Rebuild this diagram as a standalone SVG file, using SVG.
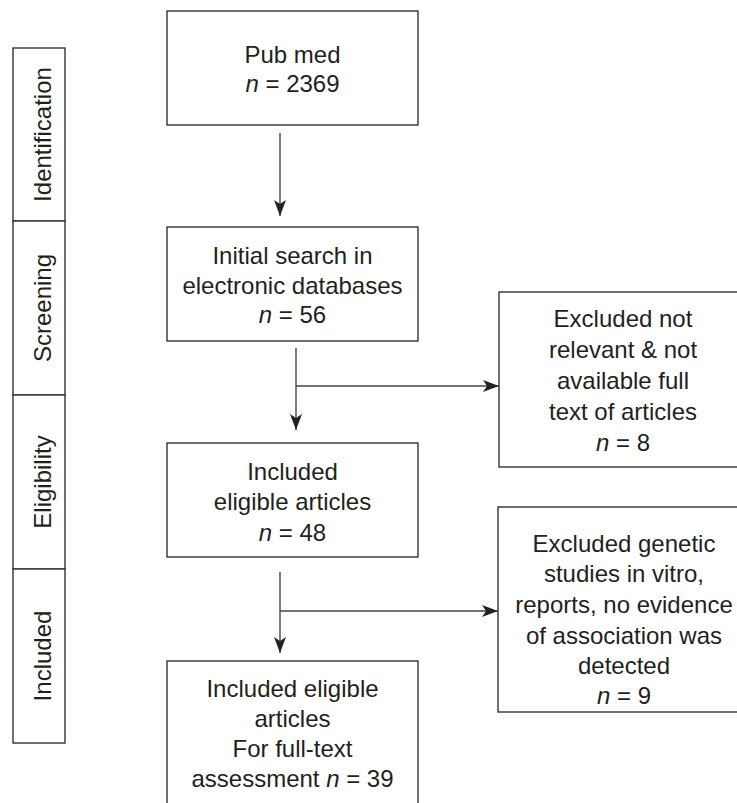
<svg xmlns="http://www.w3.org/2000/svg" width="737" height="803" viewBox="0 0 737 803">
<defs>
<style>
.box{fill:#fff;stroke:#333;stroke-width:1.4}
.t{font-family:"Liberation Sans",Arial,sans-serif;font-size:24px;fill:#231f20;text-anchor:middle}
.i{font-style:italic}
.ln{fill:none;stroke:#444;stroke-width:1.4}
</style>
<marker id="ah" viewBox="0 0 16 12" refX="16" refY="6" markerWidth="16" markerHeight="12" markerUnits="userSpaceOnUse" orient="auto">
<path d="M0,0 L16,6 L0,12 L4,6 Z" fill="#222"/>
</marker>
</defs>
<rect width="737" height="803" fill="#fff"/>
<g id="phases">
<rect class="box" x="13" y="48" width="52" height="173"/>
<rect class="box" x="13" y="221" width="52" height="174"/>
<rect class="box" x="13" y="395" width="52" height="174"/>
<rect class="box" x="13" y="569" width="52" height="174"/>
<text class="t" transform="translate(51,134.5) rotate(-90)">Identification</text>
<text class="t" transform="translate(51,308) rotate(-90)">Screening</text>
<text class="t" transform="translate(51,482) rotate(-90)">Eligibility</text>
<text class="t" transform="translate(51,656) rotate(-90)">Included</text>
</g>
<g id="connectors">
<line class="ln" x1="280" y1="133" x2="280" y2="216" marker-end="url(#ah)"/>
<line class="ln" x1="296" y1="348" x2="296" y2="430" marker-end="url(#ah)"/>
<line class="ln" x1="296" y1="386" x2="499" y2="386" marker-end="url(#ah)"/>
<line class="ln" x1="280" y1="572" x2="280" y2="653" marker-end="url(#ah)"/>
<line class="ln" x1="280" y1="611" x2="498" y2="611" marker-end="url(#ah)"/>
</g>
<g id="pubmed">
<rect class="box" x="167" y="11" width="251" height="114"/>
<text class="t" x="292.5" y="63">Pub med</text>
<text class="t" x="292.5" y="92"><tspan class="i">n</tspan> = 2369</text>
</g>
<g id="initial-search">
<rect class="box" x="167" y="227" width="251" height="114"/>
<text class="t" x="292.5" y="264">Initial search in</text>
<text class="t" x="292.5" y="293.5">electronic databases</text>
<text class="t" x="292.5" y="323"><tspan class="i">n</tspan> = 56</text>
</g>
<g id="included-eligible">
<rect class="box" x="167" y="443" width="251" height="114"/>
<text class="t" x="292.5" y="480">Included</text>
<text class="t" x="292.5" y="510">eligible articles</text>
<text class="t" x="292.5" y="541"><tspan class="i">n</tspan> = 48</text>
</g>
<g id="full-text">
<rect class="box" x="167" y="661" width="251" height="160"/>
<text class="t" x="292.5" y="697">Included eligible</text>
<text class="t" x="292.5" y="727">articles</text>
<text class="t" x="292.5" y="757">For full-text</text>
<text class="t" x="292.5" y="787">assessment <tspan class="i">n</tspan> = 39</text>
</g>
<g id="excluded-1">
<rect class="box" x="499" y="292" width="260" height="175"/>
<text class="t" x="623" y="327">Excluded not</text>
<text class="t" x="623" y="358">relevant &amp; not</text>
<text class="t" x="623" y="389">available full</text>
<text class="t" x="623" y="420">text of articles</text>
<text class="t" x="623" y="451"><tspan class="i">n</tspan> = 8</text>
</g>
<g id="excluded-2">
<rect class="box" x="498" y="507" width="260" height="205"/>
<text class="t" x="624" y="552">Excluded genetic</text>
<text class="t" x="624" y="582">studies in vitro,</text>
<text class="t" x="624" y="613">reports, no evidence</text>
<text class="t" x="624" y="644">of association was</text>
<text class="t" x="624" y="674">detected</text>
<text class="t" x="624" y="704"><tspan class="i">n</tspan> = 9</text>
</g>
</svg>
